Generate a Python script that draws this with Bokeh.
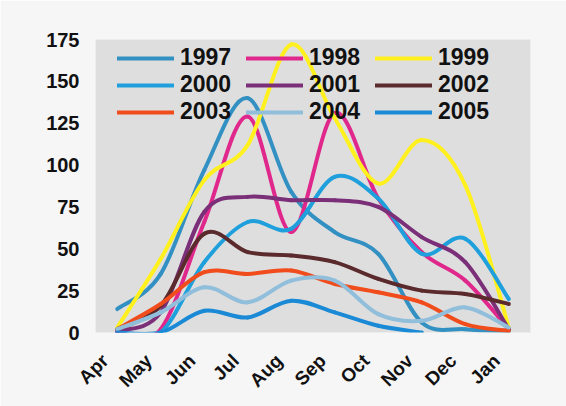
import math
from bokeh.plotting import figure
from bokeh.models import (Range1d, FixedTicker, Legend, LegendItem, ColumnDataSource,
                          LinearAxis)
from bokeh.embed import file_html
from bokeh.resources import INLINE

months = ["Apr", "May", "Jun", "Jul", "Aug", "Sep", "Oct", "Nov", "Dec", "Jan"]
y1997 = [14, 35, 97, 140, 84, 60, 47, 6, 2, 1]
y1998 = [0, 2, 66, 129, 60, 131, 80, 48, 31, 2]
y1999 = [3, 44, 91, 112, 172, 128, 89, 115, 88, 3]
y2000 = [0, 0, 42, 66, 62, 93, 80, 47, 56, 20]
y2001 = [1, 12, 72, 81, 79, 79, 75, 57, 42, 2]
y2002 = [2, 16, 59, 48, 46, 42, 32, 25, 23, 17]
y2003 = [2, 17, 36, 35, 37, 29, 24, 18, 5, 1]
y2004 = [2, 12, 27, 18, 31, 31, 11, 7, 15, 3]
y2005 = [0, 0, 13, 9, 19, 12, 4, 0, None, None]
y_ticks = [0, 25, 50, 75, 100, 125, 150, 175]

series = [
    ("1997", y1997, "#3390c2"),
    ("1998", y1998, "#e0288c"),
    ("1999", y1999, "#fff01e"),
    ("2000", y2000, "#1fa0dc"),
    ("2001", y2001, "#7a2f78"),
    ("2002", y2002, "#5a2a2c"),
    ("2003", y2003, "#f04c1c"),
    ("2004", y2004, "#90bedb"),
    ("2005", y2005, "#1b8ad6"),
]

FONT = "Liberation Sans"

p = figure(width=566, height=406, output_backend="svg", toolbar_location=None,
           x_range=Range1d(-0.5, 9.5), y_range=Range1d(0, 175),
           min_border_left=95, min_border_right=36, min_border_top=39, min_border_bottom=74,
           background_fill_color="#dedede", border_fill_color="#f6f6f6")
p.outline_line_color = None
p.grid.visible = False


def smooth_segments(vals):
    xs = list(range(len(vals)))
    d = dict(x0=[], y0=[], x1=[], y1=[], cx0=[], cy0=[], cx1=[], cy1=[])
    n = len(vals)
    for i in range(n - 1):
        if vals[i] is None or vals[i + 1] is None:
            continue
        ip = i - 1 if i - 1 >= 0 and vals[i - 1] is not None else i
        inn = i + 2 if i + 2 < n and vals[i + 2] is not None else i + 1
        x0, y0 = xs[i], vals[i]
        x1, y1 = xs[i + 1], vals[i + 1]
        d["x0"].append(x0); d["y0"].append(y0)
        d["x1"].append(x1); d["y1"].append(y1)
        d["cx0"].append(x0 + (xs[i + 1] - xs[ip]) / 6.0)
        d["cy0"].append(y0 + (vals[i + 1] - vals[ip]) / 6.0)
        d["cx1"].append(x1 - (xs[inn] - xs[i]) / 6.0)
        d["cy1"].append(y1 - (vals[inn] - vals[i]) / 6.0)
    return d


items = []
for name, vals, col in series:
    src = ColumnDataSource(smooth_segments(vals))
    r = p.bezier(x0="x0", y0="y0", x1="x1", y1="y1", cx0="cx0", cy0="cy0",
                 cx1="cx1", cy1="cy1", source=src, line_color=col, line_width=4,
                 line_cap="round")
    items.append(LegendItem(label=name, renderers=[r]))

legend = Legend(items=items, orientation="horizontal", ncols=3, location=(22, 207),
                label_text_font=FONT, label_text_font_style="bold",
                label_text_font_size="23px", label_text_color="#111111",
                glyph_width=57, glyph_height=20, label_height=20, label_width=66,
                label_standoff=6, spacing=0, padding=0, margin=0,
                background_fill_alpha=0, border_line_color=None)
p.add_layout(legend, "center")

# month labels: Excel sets its slanted labels a little left of each category
p.xaxis.visible = False
p.extra_x_ranges = {"labels": Range1d(-0.22, 9.78)}
xlab = LinearAxis(x_range_name="labels",
                  ticker=FixedTicker(ticks=list(range(len(months)))),
                  major_label_overrides={i: m for i, m in enumerate(months)},
                  major_label_orientation=math.pi / 4)
p.add_layout(xlab, "below")

p.yaxis.ticker = FixedTicker(ticks=y_ticks)
for ax in (xlab, p.yaxis[0]):
    ax.axis_line_color = None
    ax.major_tick_line_color = None
    ax.minor_tick_line_color = None
    ax.major_label_text_font = FONT
    ax.major_label_text_font_style = "bold"
    ax.major_label_text_color = "#111111"
p.yaxis.major_label_text_font_size = "20px"
xlab.major_label_text_font_size = "19px"
p.yaxis.major_label_standoff = 10
xlab.major_label_standoff = 19

open("out.html", "w").write(file_html(p, INLINE))
